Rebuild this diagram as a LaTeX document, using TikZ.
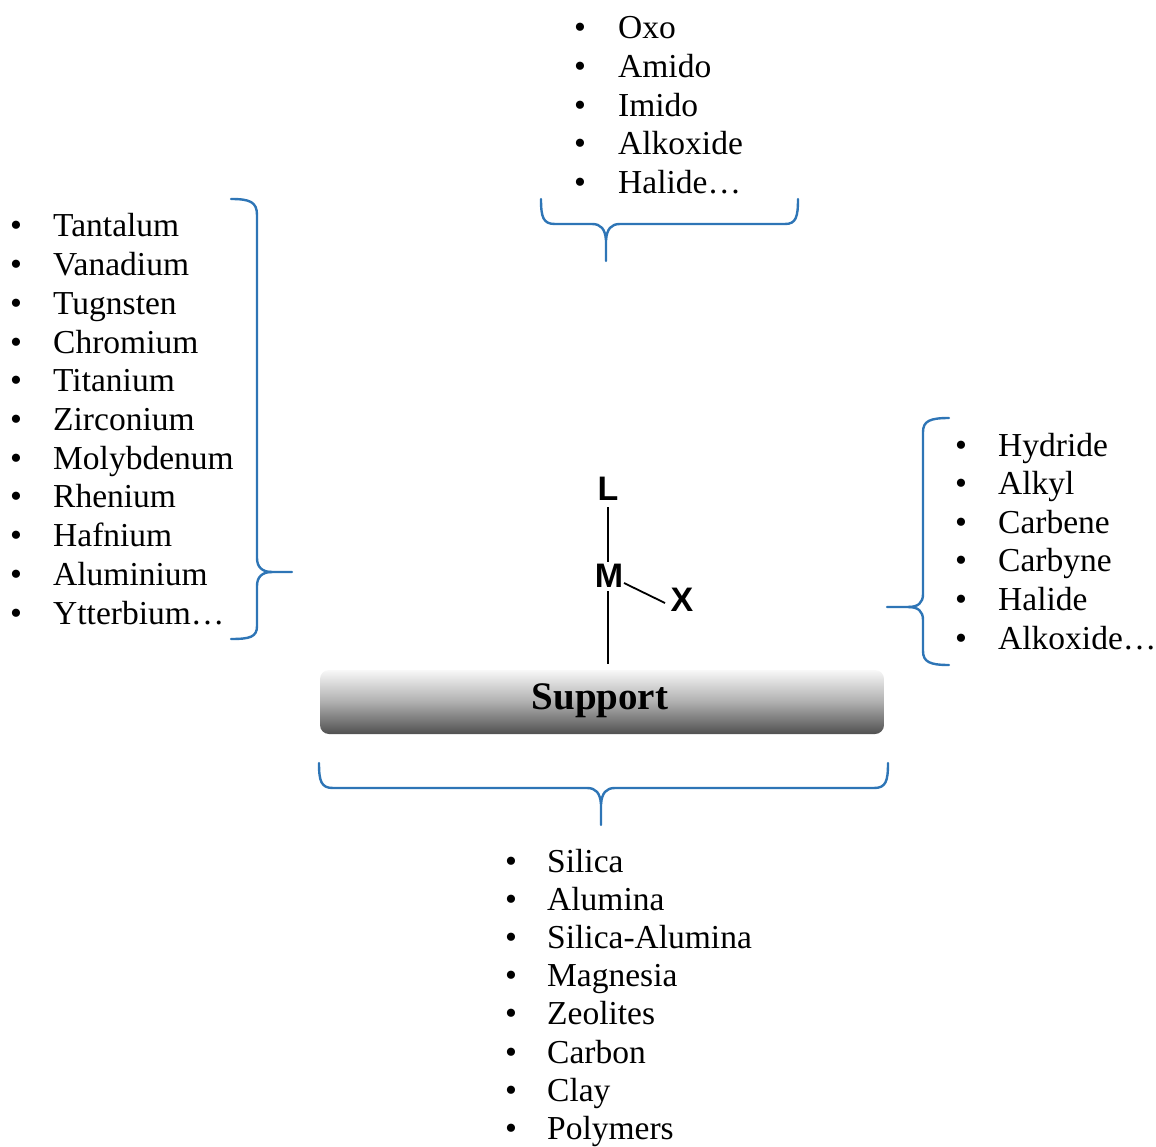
\documentclass[tikz,border=0pt]{standalone}
\usepackage{fontspec}
\setmainfont{Liberation Serif}
\newfontfamily\arialfont{Liberation Sans}
\usetikzlibrary{shadings}
\definecolor{brblue}{RGB}{46,117,182}
\definecolor{bartop}{RGB}{248,248,248}
\definecolor{barmid}{RGB}{175,175,175}
\definecolor{barbot}{RGB}{80,80,80}
\begin{document}
\begin{tikzpicture}[x=1pt,y=-1pt,
  itemtext/.style={anchor=base west,inner sep=0pt,font=\fontsize{33.5}{38.7}\selectfont},
  bul/.style={anchor=base,inner sep=0pt,font=\fontsize{34}{38.7}\selectfont},
  atom/.style={inner sep=1pt,font=\arialfont\bfseries\fontsize{34}{38}\selectfont},
  bond/.style={line width=1.8pt,black},
  brace/.style={line width=2.4pt,brblue,line cap=round,line join=round}]
\useasboundingbox (0,0) rectangle (1156,1147);

% top list
\foreach \t [count=\i from 0] in {Oxo,Amido,Imido,Alkoxide,Halide…}{
  \node[bul] (tb\i) at (580,39+38.6*\i) {•};
  \node[itemtext] (t\i) at (618,39+38.6*\i) {\t};
}
% left list
\foreach \t [count=\i from 0] in {Tantalum,Vanadium,Tugnsten,Chromium,Titanium,Zirconium,Molybdenum,Rhenium,Hafnium,Aluminium,Ytterbium…}{
  \node[bul] (lb\i) at (16,237+38.7*\i) {•};
  \node[itemtext] (l\i) at (53,237+38.7*\i) {\t};
}
% right list
\foreach \t [count=\i from 0] in {Hydride,Alkyl,Carbene,Carbyne,Halide,Alkoxide…}{
  \node[bul] (rb\i) at (961,456+38.6*\i) {•};
  \node[itemtext] (r\i) at (998,456+38.6*\i) {\t};
}
% bottom list
\foreach \t [count=\i from 0] in {Silica,Alumina,Silica-Alumina,Magnesia,Zeolites,Carbon,Clay,Polymers}{
  \node[bul] (bb\i) at (511,872+38.2*\i) {•};
  \node[itemtext] (b\i) at (547,872+38.2*\i) {\t};
}

% support bar
\shade[rounded corners=9pt,top color=bartop,bottom color=barbot,middle color=barmid]
  (320,670) rectangle (884,734);
\node[font=\bfseries\fontsize{39}{44}\selectfont,inner sep=0pt] (support) at (600,701) {Support};
\coordinate (surf) at (608,664);

% atoms
\node[atom] (L) at (608,489) {L};
\node[atom] (M) at (609,576) {M};
\node[atom] (X) at (682,600) {X};
\draw[bond] (608,507) -- (608,562);
\draw[bond] (624,583) -- (665,603);
\draw[bond] (608,591) -- (surf);

% top brace
\draw[brace] (541,199) .. controls (541,217) and (543,224) .. (555,224)
  -- (592,224) .. controls (601,224) and (605,229) .. (606,240) -- (606,261);
\draw[brace] (606,240) .. controls (607,229) and (611,224) .. (620,224)
  -- (785,224) .. controls (796,224) and (798,217) .. (798,199);

% left brace
\draw[brace] (231,199) .. controls (250,199) and (257,202) .. (257,215)
  -- (257,558) .. controls (257,567) and (262,572) .. (272,572) -- (292,572);
\draw[brace] (272,572) .. controls (262,572) and (257,577) .. (257,586)
  -- (257,626) .. controls (257,637) and (250,639) .. (231,639);

% right brace
\draw[brace] (949,418) .. controls (930,418) and (923,421) .. (923,432)
  -- (923,594) .. controls (923,603) and (918,607) .. (908,607) -- (887,607);
\draw[brace] (908,607) .. controls (918,607) and (923,611) .. (923,620)
  -- (923,651) .. controls (923,662) and (930,665) .. (949,665);

% bottom brace
\draw[brace] (319,763) .. controls (319,781) and (321,788) .. (333,788)
  -- (587,788) .. controls (596,788) and (600,793) .. (601,804) -- (601,825);
\draw[brace] (601,804) .. controls (602,793) and (606,788) .. (615,788)
  -- (874,788) .. controls (886,788) and (888,781) .. (888,763);
\end{tikzpicture}
\end{document}
